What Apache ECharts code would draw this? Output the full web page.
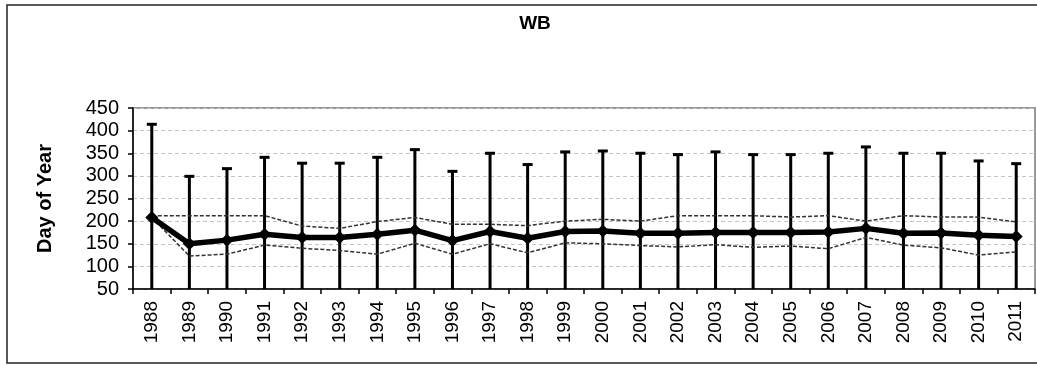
<!DOCTYPE html>
<html>
<head>
<meta charset="utf-8">
<script src="https://cdn.jsdelivr.net/npm/echarts@6/dist/echarts.min.js"></script>
<style>html,body{margin:0;padding:0;background:#fff;}#c{width:1037px;height:365px;}</style>
</head>
<body>
<div id="c"></div>
<script>
const years = ['1988','1989','1990','1991','1992','1993','1994','1995','1996','1997','1998','1999','2000','2001','2002','2003','2004','2005','2006','2007','2008','2009','2010','2011'];
const meanDay = [208,150,158,171,164,164,171,180,157,177,162,177,178,173,173,175,175,175,176,184,173,174,169,166];
const upperBar = [414,299,316,341,328,328,341,358,310,350,325,353,355,350,347,353,347,347,350,364,350,350,333,327];
const lowerBar = [50,50,50,50,50,50,50,50,50,50,50,50,50,50,50,50,50,50,50,50,50,50,50,50];
const upperDash = [212,212,212,212,189,184,199,208,193,193,190,200,204,200,212,212,212,209,212,200,212,209,209,198];
const lowerDash = [208,123,127,147,140,135,127,151,127,150,130,152,150,146,143,148,142,145,139,164,147,141,125,132];
const yTicks = [50,100,150,200,250,300,350,400,450];

const font = '"Liberation Sans", Arial, sans-serif';
const chart = echarts.init(document.getElementById('c'), null, {renderer:'canvas'});
const errData = years.map((y,i)=>[i, lowerBar[i], upperBar[i]]);
chart.setOption({
  animation:false,
  backgroundColor:'#fff',
  title:{text:'WB', left:530, top:9, textAlign:'center',
    textStyle:{fontFamily:font, fontSize:19, fontWeight:'bold', color:'#000'}},
  graphic:[{type:'rect', shape:{x:7, y:5, width:1040, height:358},
    style:{fill:null, stroke:'#222', lineWidth:1.5}, z:-1}],
  grid:{left:133, right:2, top:108, bottom:76, show:true, borderColor:'#999', borderWidth:2, backgroundColor:'transparent'},
  xAxis:{type:'category', data:years, boundaryGap:true,
    axisLine:{lineStyle:{color:'#000', width:1.5}},
    axisTick:{show:true, alignWithLabel:false, length:5, lineStyle:{color:'#000', width:1.5}},
    axisLabel:{rotate:90, margin:12, interval:0, fontFamily:font, fontSize:19, color:'#000'}},
  yAxis:{type:'value', min:yTicks[0], max:yTicks[yTicks.length-1], interval:50,
    name:'Day of Year', nameLocation:'middle', nameGap:78,
    nameTextStyle:{fontFamily:font, fontSize:20, fontWeight:'bold', color:'#000'},
    axisLine:{show:true, lineStyle:{color:'#000', width:1.5}},
    axisTick:{show:true, length:5, lineStyle:{color:'#000', width:1.5}},
    axisLabel:{margin:14, fontFamily:font, fontSize:20, color:'#000'},
    splitLine:{show:true, lineStyle:{color:'#c4c4c4', type:[4,3], width:1}}},
  series:[
    {type:'custom', data:errData, z:3, clip:true,
      renderItem:function(params, api){
        const x = api.value(0);
        const lo = api.coord([x, api.value(1)]);
        const hi = api.coord([x, api.value(2)]);
        const cap = 5;
        return {type:'group', children:[
          {type:'line', shape:{x1:hi[0], y1:hi[1], x2:lo[0], y2:lo[1]}, style:{stroke:'#000', lineWidth:3}},
          {type:'line', shape:{x1:hi[0]-cap, y1:hi[1], x2:hi[0]+cap, y2:hi[1]}, style:{stroke:'#000', lineWidth:3}}
        ]};
      }},
    {type:'line', data:upperDash, symbol:'none', z:4,
      lineStyle:{color:'#333', width:1.5, type:[4,2]}},
    {type:'line', data:lowerDash, symbol:'none', z:4,
      lineStyle:{color:'#333', width:1.5, type:[4,2]}},
    {type:'line', data:meanDay, symbol:'diamond', symbolSize:13, z:5,
      itemStyle:{color:'#000'}, lineStyle:{color:'#000', width:5.5}}
  ]
});
</script>
</body>
</html>
